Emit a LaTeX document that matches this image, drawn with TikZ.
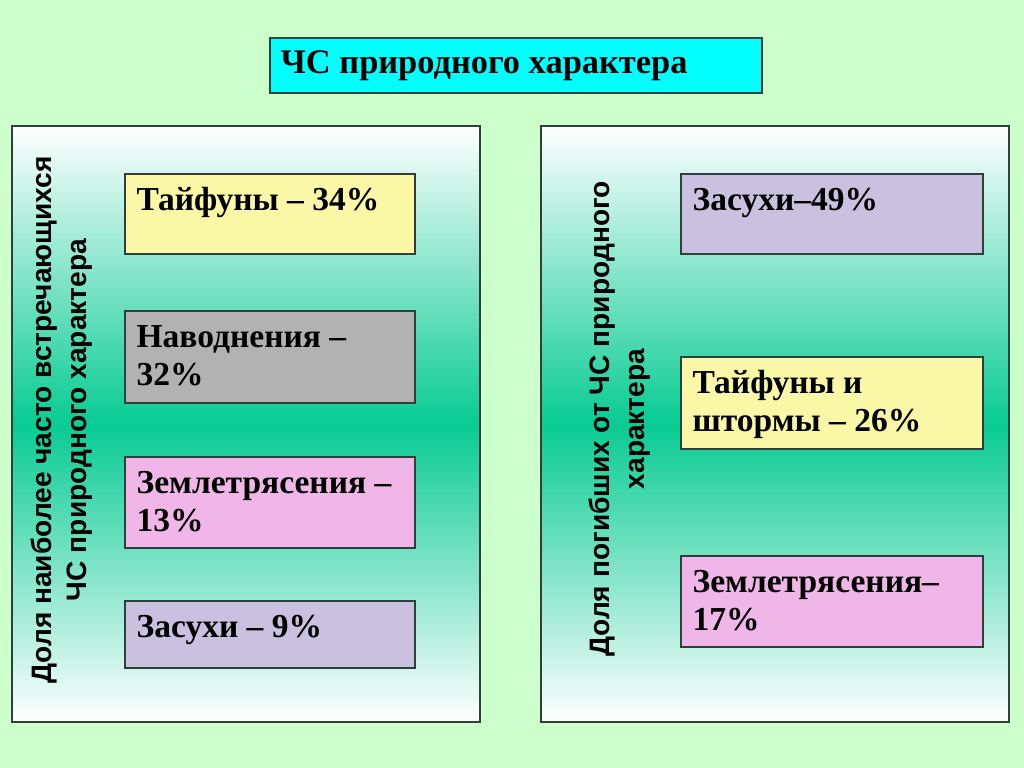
\documentclass[tikz,border=0pt]{standalone}
\usepackage{fontspec}
\setmainfont{Liberation Serif}
\setsansfont{Liberation Sans}
\usepackage{tikz}
\usetikzlibrary{fit}
\definecolor{bgcol}{HTML}{CCFFCC}
\definecolor{cyanbox}{HTML}{00FFFF}
\definecolor{yellowbox}{HTML}{FAF7A6}
\definecolor{graybox}{HTML}{B2B2B2}
\definecolor{pinkbox}{HTML}{EFB6E7}
\definecolor{lilacbox}{HTML}{C9C1DF}
\definecolor{greenmid}{HTML}{08CB93}
\definecolor{edge}{HTML}{2F3F3A}
\tikzstyle{panel} = [draw=edge, line width=1.6pt, inner sep=0pt, top color=white, bottom color=white, middle color=greenmid]
\tikzstyle{box} = [draw=edge, line width=1pt, inner sep=0pt]
\tikzstyle{entry} = [anchor=north west, inner sep=0pt, align=left, shift={(12,11)}, font=\bfseries\fontsize{28.6}{32}\selectfont]
\tikzstyle{side} = [rotate=90, align=center, font=\sffamily\bfseries\fontsize{24}{30}\selectfont]

\begin{document}
\begin{tikzpicture}[x=0.03cm, y=-0.03cm]

\useasboundingbox (0,0) rectangle (1024,768);
\fill[bgcol] (0,0) rectangle (1024,768);

% title
\node (title) [box, fill=cyanbox, fit={(270,38)(762,93)}] {};
\node (ttitle) [entry, shift={(-1,-1)}, font=\bfseries\fontsize{29.4}{32}\selectfont] at (title.north west) {\strut ЧС природного характера};

% panels
\node (panel_l) [panel, fit={(12,126)(480,722)}] {};
\node (panel_r) [panel, fit={(541,126)(1009,722)}] {};
\node (side_l) [side] at (62,420) {Доля наиболее часто встречающихся\\ЧС природного характера};
\node (side_r) [side] at (620,419) {Доля погибших от ЧС природного\\характера};

% boxes, left
\node (la) [box, fill=yellowbox, fit={(125,174)(415,254)}] {};
\node (lb) [box, fill=graybox, fit={(125,311)(415,403)}] {};
\node (lc) [box, fill=pinkbox, fit={(125,457)(415,548)}] {};
\node (ld) [box, fill=lilacbox, fit={(125,601)(415,668)}] {};
\node (tla) [entry] at (la.north west) {\strut Тайфуны – 34\%};
\node (tlb) [entry] at (lb.north west) {\strut Наводнения –\\32\%};
\node (tlc) [entry] at (lc.north west) {\strut Землетрясения –\\13\%};
\node (tld) [entry] at (ld.north west) {\strut Засухи – 9\%};

% boxes, right
\node (ra) [box, fill=lilacbox, fit={(681,174)(983,254)}] {};
\node (rb) [box, fill=yellowbox, fit={(681,357)(983,449)}] {};
\node (rc) [box, fill=pinkbox, fit={(681,556)(983,647)}] {};
\node (tra) [entry] at (ra.north west) {\strut Засухи–49\%};
\node (trb) [entry] at (rb.north west) {\strut Тайфуны и\\штормы – 26\%};
\node (trc) [entry] at (rc.north west) {\strut Землетрясения–\\17\%};

\end{tikzpicture}
\end{document}
